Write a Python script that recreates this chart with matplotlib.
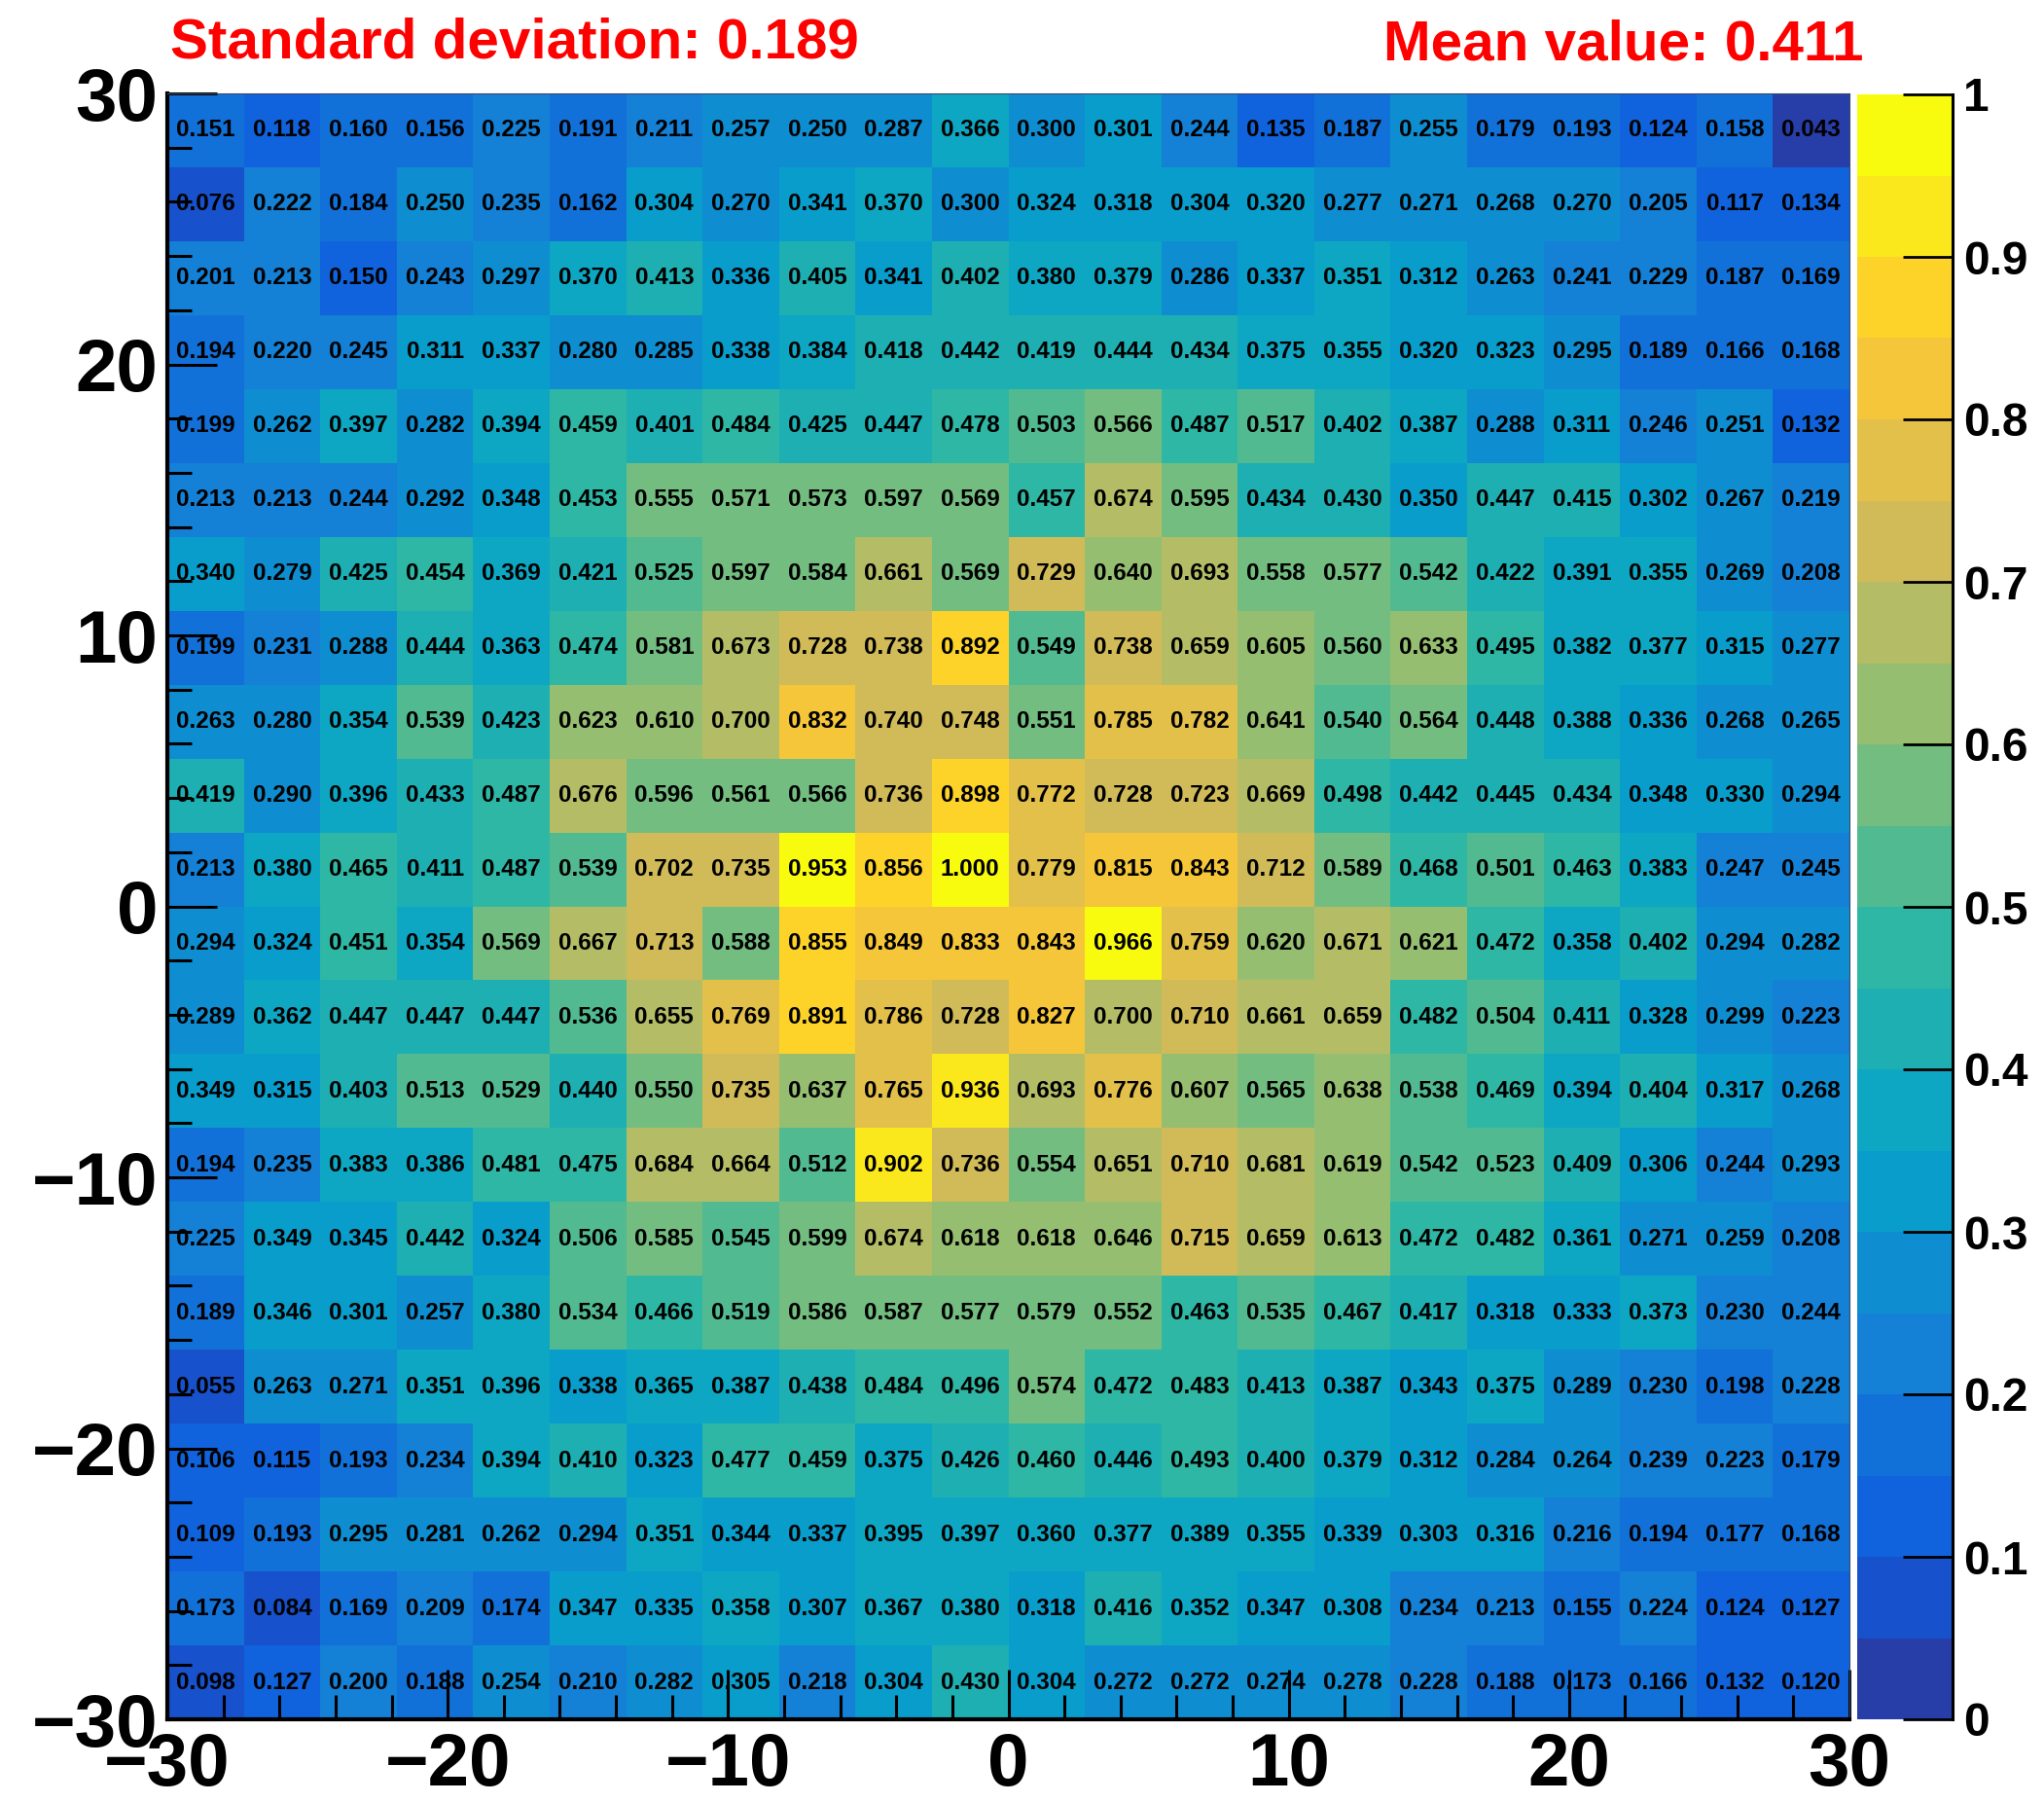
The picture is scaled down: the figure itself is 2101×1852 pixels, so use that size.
import numpy as np
import matplotlib.pyplot as plt
from matplotlib.colors import ListedColormap, BoundaryNorm, LinearSegmentedColormap
from matplotlib.ticker import MultipleLocator

plt.rcParams["font.family"] = ["Liberation Sans", "DejaVu Sans"]
plt.rcParams["font.weight"] = "bold"

# histogram range and binning
x_range = (-30, 30)
y_range = (-30, 30)
n_bins = 22

# bin contents, rows listed from top (y = 30) to bottom (y = -30)
rows_top_down = [
    [0.151, 0.118, 0.160, 0.156, 0.225, 0.191, 0.211, 0.257, 0.250, 0.287, 0.366, 0.300, 0.301, 0.244, 0.135, 0.187, 0.255, 0.179, 0.193, 0.124, 0.158, 0.043],
    [0.076, 0.222, 0.184, 0.250, 0.235, 0.162, 0.304, 0.270, 0.341, 0.370, 0.300, 0.324, 0.318, 0.304, 0.320, 0.277, 0.271, 0.268, 0.270, 0.205, 0.117, 0.134],
    [0.201, 0.213, 0.150, 0.243, 0.297, 0.370, 0.413, 0.336, 0.405, 0.341, 0.402, 0.380, 0.379, 0.286, 0.337, 0.351, 0.312, 0.263, 0.241, 0.229, 0.187, 0.169],
    [0.194, 0.220, 0.245, 0.311, 0.337, 0.280, 0.285, 0.338, 0.384, 0.418, 0.442, 0.419, 0.444, 0.434, 0.375, 0.355, 0.320, 0.323, 0.295, 0.189, 0.166, 0.168],
    [0.199, 0.262, 0.397, 0.282, 0.394, 0.459, 0.401, 0.484, 0.425, 0.447, 0.478, 0.503, 0.566, 0.487, 0.517, 0.402, 0.387, 0.288, 0.311, 0.246, 0.251, 0.132],
    [0.213, 0.213, 0.244, 0.292, 0.348, 0.453, 0.555, 0.571, 0.573, 0.597, 0.569, 0.457, 0.674, 0.595, 0.434, 0.430, 0.350, 0.447, 0.415, 0.302, 0.267, 0.219],
    [0.340, 0.279, 0.425, 0.454, 0.369, 0.421, 0.525, 0.597, 0.584, 0.661, 0.569, 0.729, 0.640, 0.693, 0.558, 0.577, 0.542, 0.422, 0.391, 0.355, 0.269, 0.208],
    [0.199, 0.231, 0.288, 0.444, 0.363, 0.474, 0.581, 0.673, 0.728, 0.738, 0.892, 0.549, 0.738, 0.659, 0.605, 0.560, 0.633, 0.495, 0.382, 0.377, 0.315, 0.277],
    [0.263, 0.280, 0.354, 0.539, 0.423, 0.623, 0.610, 0.700, 0.832, 0.740, 0.748, 0.551, 0.785, 0.782, 0.641, 0.540, 0.564, 0.448, 0.388, 0.336, 0.268, 0.265],
    [0.419, 0.290, 0.396, 0.433, 0.487, 0.676, 0.596, 0.561, 0.566, 0.736, 0.898, 0.772, 0.728, 0.723, 0.669, 0.498, 0.442, 0.445, 0.434, 0.348, 0.330, 0.294],
    [0.213, 0.380, 0.465, 0.411, 0.487, 0.539, 0.702, 0.735, 0.953, 0.856, 1.000, 0.779, 0.815, 0.843, 0.712, 0.589, 0.468, 0.501, 0.463, 0.383, 0.247, 0.245],
    [0.294, 0.324, 0.451, 0.354, 0.569, 0.667, 0.713, 0.588, 0.855, 0.849, 0.833, 0.843, 0.966, 0.759, 0.620, 0.671, 0.621, 0.472, 0.358, 0.402, 0.294, 0.282],
    [0.289, 0.362, 0.447, 0.447, 0.447, 0.536, 0.655, 0.769, 0.891, 0.786, 0.728, 0.827, 0.700, 0.710, 0.661, 0.659, 0.482, 0.504, 0.411, 0.328, 0.299, 0.223],
    [0.349, 0.315, 0.403, 0.513, 0.529, 0.440, 0.550, 0.735, 0.637, 0.765, 0.936, 0.693, 0.776, 0.607, 0.565, 0.638, 0.538, 0.469, 0.394, 0.404, 0.317, 0.268],
    [0.194, 0.235, 0.383, 0.386, 0.481, 0.475, 0.684, 0.664, 0.512, 0.902, 0.736, 0.554, 0.651, 0.710, 0.681, 0.619, 0.542, 0.523, 0.409, 0.306, 0.244, 0.293],
    [0.225, 0.349, 0.345, 0.442, 0.324, 0.506, 0.585, 0.545, 0.599, 0.674, 0.618, 0.618, 0.646, 0.715, 0.659, 0.613, 0.472, 0.482, 0.361, 0.271, 0.259, 0.208],
    [0.189, 0.346, 0.301, 0.257, 0.380, 0.534, 0.466, 0.519, 0.586, 0.587, 0.577, 0.579, 0.552, 0.463, 0.535, 0.467, 0.417, 0.318, 0.333, 0.373, 0.230, 0.244],
    [0.055, 0.263, 0.271, 0.351, 0.396, 0.338, 0.365, 0.387, 0.438, 0.484, 0.496, 0.574, 0.472, 0.483, 0.413, 0.387, 0.343, 0.375, 0.289, 0.230, 0.198, 0.228],
    [0.106, 0.115, 0.193, 0.234, 0.394, 0.410, 0.323, 0.477, 0.459, 0.375, 0.426, 0.460, 0.446, 0.493, 0.400, 0.379, 0.312, 0.284, 0.264, 0.239, 0.223, 0.179],
    [0.109, 0.193, 0.295, 0.281, 0.262, 0.294, 0.351, 0.344, 0.337, 0.395, 0.397, 0.360, 0.377, 0.389, 0.355, 0.339, 0.303, 0.316, 0.216, 0.194, 0.177, 0.168],
    [0.173, 0.084, 0.169, 0.209, 0.174, 0.347, 0.335, 0.358, 0.307, 0.367, 0.380, 0.318, 0.416, 0.352, 0.347, 0.308, 0.234, 0.213, 0.155, 0.224, 0.124, 0.127],
    [0.098, 0.127, 0.200, 0.188, 0.254, 0.210, 0.282, 0.305, 0.218, 0.304, 0.430, 0.304, 0.272, 0.272, 0.274, 0.278, 0.228, 0.188, 0.173, 0.166, 0.132, 0.120],
]

std_text = "Standard deviation: 0.189"
mean_text = "Mean value: 0.411"

z = np.array(rows_top_down)[::-1]
x_edges = np.linspace(x_range[0], x_range[1], n_bins + 1)
y_edges = np.linspace(y_range[0], y_range[1], n_bins + 1)
x_centers = 0.5 * (x_edges[1:] + x_edges[:-1])
y_centers = 0.5 * (y_edges[1:] + y_edges[:-1])

# ROOT kBird palette, 20 contour levels
stops = [0.0000, 0.1250, 0.2500, 0.3750, 0.5000, 0.6250, 0.7500, 0.8750, 1.0000]
red = [0.2082, 0.0592, 0.0780, 0.0232, 0.1802, 0.5301, 0.8186, 0.9956, 0.9764]
green = [0.1664, 0.3599, 0.5041, 0.6419, 0.7178, 0.7492, 0.7328, 0.7862, 0.9832]
blue = [0.5293, 0.8684, 0.8385, 0.7914, 0.6425, 0.4662, 0.3499, 0.1968, 0.0539]
bird = LinearSegmentedColormap.from_list("bird", list(zip(stops, zip(red, green, blue))), N=255)
n_levels = 20
band_colors = [bird(int((i + 0.99) * 255 / n_levels) / 254) for i in range(n_levels)]
cmap = ListedColormap(band_colors)
levels = np.linspace(0, 1, n_levels + 1)
norm = BoundaryNorm(levels, cmap.N)

W, H = 2101, 1852
fig = plt.figure(figsize=(W / 100, H / 100), dpi=100)
ax = fig.add_axes([172 / W, 1 - 1767 / H, (1901 - 172) / W, (1767 - 96) / H])
mesh = ax.pcolormesh(x_edges, y_edges, z, cmap=cmap, norm=norm)

for j, yc in enumerate(y_centers):
    for i, xc in enumerate(x_centers):
        ax.text(xc, yc, "%.3f" % z[j, i], ha="center", va="center",
                fontsize=17.5, fontweight="bold", color="black")

ax.set_xlim(*x_range)
ax.set_ylim(*y_range)
ax.xaxis.set_major_locator(MultipleLocator(10))
ax.xaxis.set_minor_locator(MultipleLocator(2))
ax.yaxis.set_major_locator(MultipleLocator(10))
ax.yaxis.set_minor_locator(MultipleLocator(2))
ax.tick_params(which="both", direction="in", top=False, right=False, width=2.2, color="black")
ax.tick_params(which="major", length=37)
ax.tick_params(which="minor", length=18)
ax.tick_params(axis="x", which="major", labelsize=55, pad=9)
ax.tick_params(axis="y", which="major", labelsize=55, pad=7)
for lab in ax.get_xticklabels() + ax.get_yticklabels():
    lab.set_fontweight("bold")
for s in ["left", "bottom"]:
    ax.spines[s].set_linewidth(3)
for s in ["top", "right"]:
    ax.spines[s].set_linewidth(0.8)
    ax.spines[s].set_color("#3a4a6a")

# palette axis
cax = fig.add_axes([1909 / W, 1 - 1767 / H, (2007 - 1909) / W, (1767 - 97) / H])
cb = fig.colorbar(mesh, cax=cax, ticks=np.arange(0, 1.01, 0.1))
cb.outline.set_visible(False)
cax.axvline(1, color="black", lw=2.2, clip_on=False)
cax.yaxis.set_ticks_position("right")
cax.tick_params(direction="in", length=37, width=2, labelsize=34.5, pad=8)
cax.set_yticklabels(["%g" % t for t in np.arange(0, 1.01, 0.1).round(1)])
for lab in cax.get_yticklabels():
    lab.set_fontweight("bold")
cax.minorticks_off()

fig.text(175 / W, 1 - 60 / H, std_text, color="red", fontsize=42, fontweight="bold",
         ha="left", va="baseline")
fig.text(1915 / W, 1 - 61 / H, mean_text, color="red", fontsize=42, fontweight="bold",
         ha="right", va="baseline")

fig.savefig("out.png", dpi=100)
